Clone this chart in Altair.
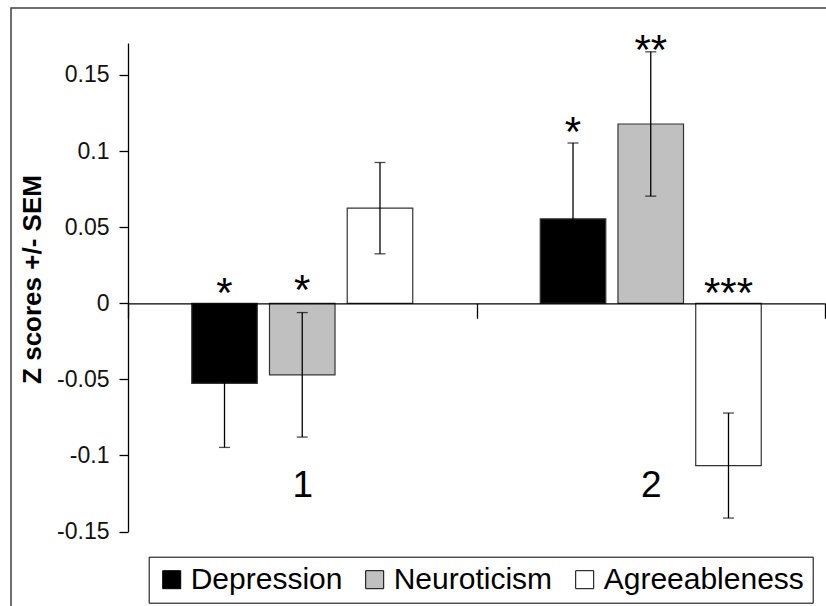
import altair as alt
import pandas as pd

# ---- data ----
groups = ["1", "2"]
series = ["Depression", "Neuroticism", "Agreeableness"]
colors = ["#000000", "#c0c0c0", "#ffffff"]

group_col = ["1", "1", "1", "2", "2", "2"]
series_col = ["Depression", "Neuroticism", "Agreeableness",
              "Depression", "Neuroticism", "Agreeableness"]
mean_vals = [-0.0526, -0.0470, 0.0625, 0.0555, 0.1178, -0.1066]
sem_vals = [0.0421, 0.0409, 0.0300, 0.0498, 0.0474, 0.0345]
star_text = ["*", "*", "", "*", "**", "***"]
star_pos = [0.0134, 0.0153, 0.0, 0.1190, 0.1728, 0.0132]

tick_values = [-0.15, -0.1, -0.05, 0, 0.05, 0.1, 0.15]
y_min, y_max = -0.15, 0.171

df = pd.DataFrame({
    "group": group_col,
    "series": series_col,
    "mean": mean_vals,
    "sem": sem_vals,
    "star": star_text,
    "star_y": star_pos,
})
df["lo"] = df["mean"] - df["sem"]
df["hi"] = df["mean"] + df["sem"]

W = 697
H = 488.6
y0_px = H * y_max / (y_max - y_min)
x_axis_offset = -(H - y0_px)

FONT = "Liberation Sans"

x_enc = alt.X("group:N", sort=groups,
              scale=alt.Scale(domain=groups, paddingInner=0, paddingOuter=0),
              axis=alt.Axis(title=None, orient="bottom", offset=x_axis_offset,
                            domainColor="black", domainWidth=1.3,
                            tickColor="black", tickSize=15, tickWidth=1.3,
                            tickBand="extent", labelAngle=0,
                            labelFont=FONT, labelFontSize=37, labelColor="black",
                            labelPadding=149, zindex=1))
xo_enc = alt.XOffset("series:N", sort=series,
                     scale=alt.Scale(domain=series, paddingInner=0.157, paddingOuter=0.82))
y_scale = alt.Scale(domain=[y_min, y_max], nice=False, zero=False)

base = alt.Chart(df)

bars = base.mark_bar(stroke="#333333", strokeWidth=1.2).encode(
    x=x_enc,
    xOffset=xo_enc,
    y=alt.Y("mean:Q", scale=y_scale,
            axis=alt.Axis(title="Z scores +/- SEM", values=tick_values,
                          labelExpr="(datum.value < 0 ? '-' : '') + format(abs(datum.value), '.2~f')",
                          domainColor="black", domainWidth=1.3,
                          tickColor="black", tickSize=9, tickWidth=1.3,
                          labelFont=FONT, labelFontSize=23, labelColor="#111111",
                          labelPadding=10, grid=False,
                          titleFont=FONT, titleFontSize=26, titleFontWeight="bold",
                          titleColor="black", titleAngle=-90, titleX=-96, titleY=236,
                          titleAlign="center", titleBaseline="middle")),
    color=alt.Color("series:N", sort=series,
                    scale=alt.Scale(domain=series, range=colors),
                    legend=alt.Legend(title=None, orient="none", legendX=20.7, legendY=513.7,
                                      direction="horizontal", columns=3,
                                      symbolType="square", symbolSize=324,
                                      symbolStrokeColor="black", symbolStrokeWidth=1,
                                      labelFont=FONT, labelFontSize=30, labelColor="black",
                                      labelOffset=4, columnPadding=17, padding=8,
                                      strokeColor="black", fillColor="white", labelLimit=0)),
)

err = base.mark_rule(color="black", strokeWidth=1.3).encode(
    x=alt.X("group:N", sort=groups), xOffset=xo_enc,
    y=alt.Y("lo:Q", scale=y_scale), y2="hi:Q",
)
cap_lo = base.mark_tick(orient="horizontal", color="black", size=11, thickness=1.3).encode(
    x=alt.X("group:N", sort=groups), xOffset=xo_enc,
    y=alt.Y("lo:Q", scale=y_scale),
)
cap_hi = base.mark_tick(orient="horizontal", color="black", size=11, thickness=1.3).encode(
    x=alt.X("group:N", sort=groups), xOffset=xo_enc,
    y=alt.Y("hi:Q", scale=y_scale),
)
stars = base.transform_filter("datum.star != ''").mark_text(
    font=FONT, fontSize=42, color="black", baseline="alphabetic", align="center", dy=24
).encode(
    x=alt.X("group:N", sort=groups), xOffset=xo_enc,
    y=alt.Y("star_y:Q", scale=y_scale),
    text="star:N",
)

frame = alt.Chart(alt.Data(values=[{"f": 1}])).mark_rect(
    fillOpacity=0, stroke="#404040", strokeWidth=1.5
).encode(
    x=alt.value(-117), x2=alt.value(W + 60),
    y=alt.value(-35), y2=alt.value(H + 120),
)

chart = alt.layer(frame, bars, err, cap_lo, cap_hi, stars).properties(
    width=W, height=H,
    autosize="none",
    padding={"left": 128, "top": 43, "right": 1, "bottom": 74.4},
    background="white",
).configure_view(stroke=None)

chart.save("out.html", embed_options={"renderer": "svg", "actions": False})
